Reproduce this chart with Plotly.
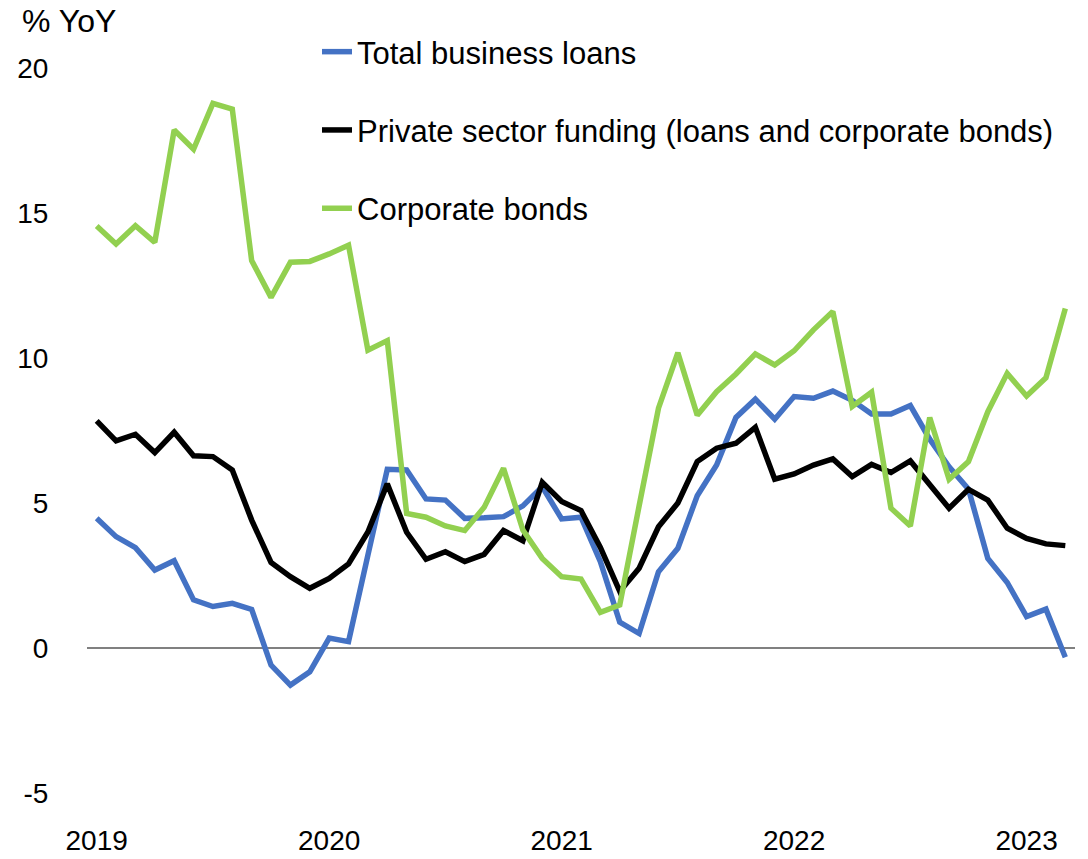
import plotly.graph_objects as go

months = [f"{y}-{m:02d}" for y in range(2019, 2024) for m in range(1, 13)][:51]

total_business_loans = [4.47, 3.84, 3.46, 2.69, 3.01, 1.66, 1.43, 1.54, 1.33, -0.59,
                        -1.28, -0.82, 0.34, 0.22, 3.2, 6.16, 6.14, 5.14, 5.1, 4.47,
                        4.49, 4.53, 4.9, 5.56, 4.45, 4.51, 2.98, 0.89, 0.5, 2.63,
                        3.44, 5.25, 6.31, 7.95, 8.58, 7.89, 8.67, 8.61, 8.86, 8.54,
                        8.07, 8.07, 8.36, 7.2, 6.25, 5.48, 3.09, 2.26, 1.08, 1.34,
                        -0.32]

private_sector_funding = [7.83, 7.14, 7.37, 6.74, 7.44, 6.63, 6.6, 6.14, 4.41, 2.95,
                          2.46, 2.06, 2.4, 2.9, 4.0, 5.66, 3.99, 3.06, 3.32, 2.98,
                          3.23, 4.05, 3.7, 5.71, 5.05, 4.74, 3.47, 1.95, 2.75, 4.18,
                          5.0, 6.43, 6.89, 7.06, 7.61, 5.82, 6.0, 6.31, 6.52, 5.91,
                          6.33, 6.05, 6.45, 5.66, 4.82, 5.47, 5.1, 4.13, 3.78, 3.59,
                          3.53]

corporate_bonds = [14.55, 13.93, 14.56, 13.99, 17.86, 17.2, 18.78, 18.58, 13.36, 12.09,
                   13.3, 13.33, 13.59, 13.89, 10.27, 10.6, 4.64, 4.51, 4.21, 4.05,
                   4.85, 6.2, 4.07, 3.09, 2.46, 2.38, 1.23, 1.48, 4.9, 8.27,
                   10.18, 8.03, 8.84, 9.45, 10.14, 9.76, 10.25, 10.97, 11.6, 8.33,
                   8.82, 4.82, 4.21, 7.95, 5.82, 6.43, 8.15, 9.47, 8.69, 9.32,
                   11.71]

tick_months = ["2019-01", "2020-01", "2021-01", "2022-01", "2023-01"]
tick_labels = ["2019", "2020", "2021", "2022", "2023"]
y_ticks = [-5, 0, 5, 10, 15, 20]
y_tick_labels = ["-5", "0", "5", "10", "15", "20"]

FONT = "Liberation Sans"

fig = go.Figure()
series = [
    ("Total business loans", total_business_loans, "#4472C4"),
    ("Private sector funding (loans and corporate bonds)", private_sector_funding, "#000000"),
    ("Corporate bonds", corporate_bonds, "#92D050"),
]
for name, vals, col in series:
    fig.add_trace(go.Scatter(x=months, y=vals, mode="lines", name=name, legendgroup=name,
                             line=dict(color=col, width=5.5)))

fig.update_layout(
    width=1088, height=859,
    margin=dict(l=87, r=13, t=68, b=66),
    paper_bgcolor="white", plot_bgcolor="white",
    font=dict(family=FONT, size=28, color="black"),
    showlegend=True,
    legend=dict(x=(317 - 87) / 988, y=(793 - 25) / 725, xanchor="left", yanchor="top",
                bgcolor="rgba(0,0,0,0)", tracegroupgap=35,
                font=dict(family=FONT, size=31, color="black")),
    xaxis=dict(type="category", range=[-0.5, 50.5], tickmode="array",
               tickvals=tick_months, ticktext=tick_labels, showgrid=False,
               showline=False, ticks="outside", ticklen=22, tickcolor="rgba(0,0,0,0)",
               tickfont=dict(family=FONT, size=28), automargin=False),
    yaxis=dict(range=[-5, 20], tickmode="array", tickvals=y_ticks, ticktext=y_tick_labels,
               showgrid=False, zeroline=True, zerolinecolor="#808080", zerolinewidth=2,
               showline=False, ticks="outside", ticklen=32, tickcolor="rgba(0,0,0,0)",
               tickfont=dict(family=FONT, size=28), automargin=False),
    annotations=[dict(text="% YoY", xref="paper", yref="paper", x=(20 - 87) / 988,
                      y=(793 - 21) / 725, xanchor="left", yanchor="middle",
                      showarrow=False, font=dict(family=FONT, size=32, color="black"))],
)

fig.write_html("out.html")
